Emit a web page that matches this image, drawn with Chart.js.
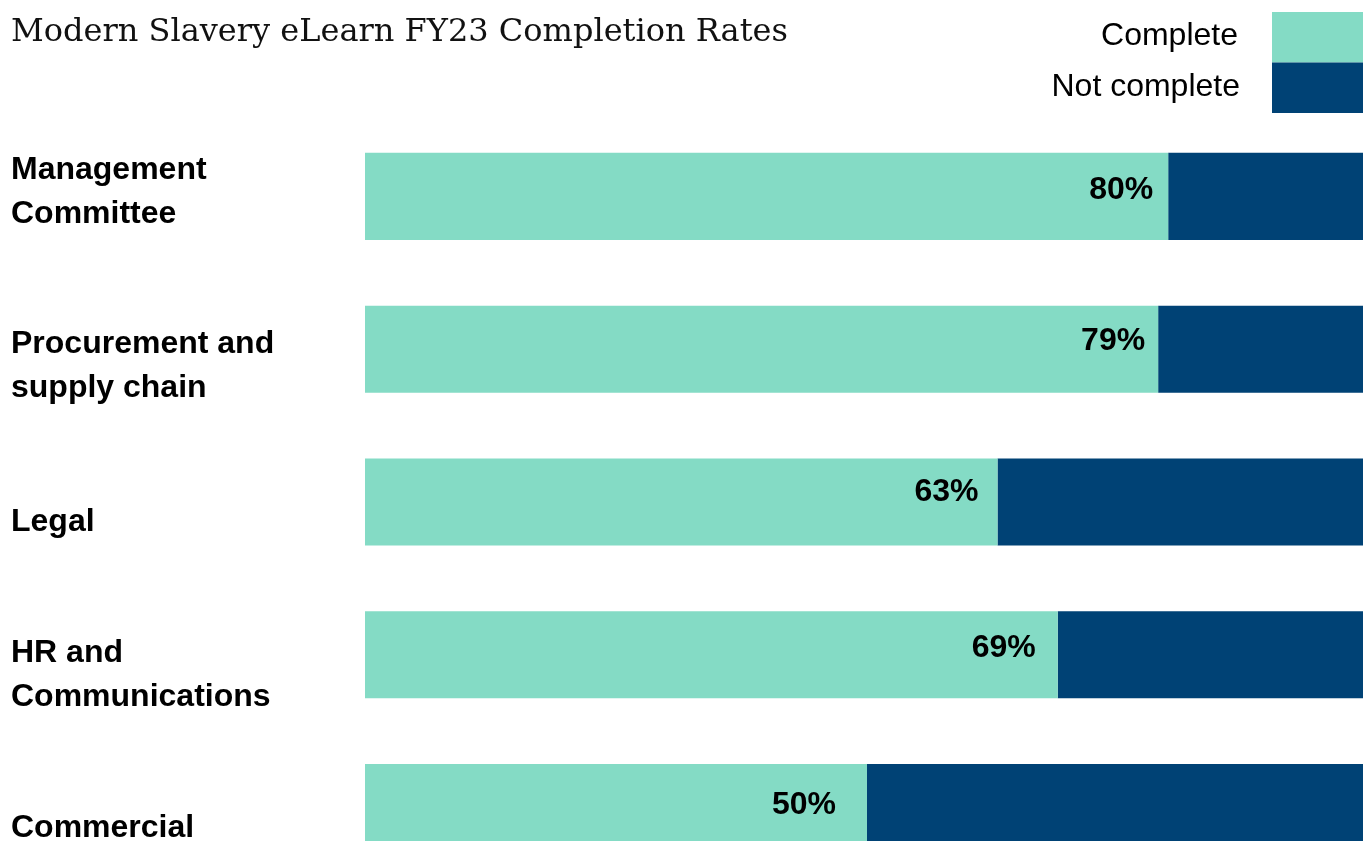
<!DOCTYPE html>
<html>
<head>
<meta charset="utf-8">
<title>Modern Slavery eLearn FY23 Completion Rates</title>
<script src="https://cdn.jsdelivr.net/npm/chart.js@4.4.1/dist/chart.umd.min.js"></script>
<style>
  html, body { margin: 0; padding: 0; background: #fff; overflow: hidden; }
  #wrap { width: 1363px; height: 841px; overflow: hidden; position: relative; }
  canvas { display: block; }
</style>
</head>
<body>
<div id="wrap">
  <canvas id="chart" width="1369" height="884"></canvas>
</div>
<script>
// data
const categories = [
  ['Management', 'Committee'],
  ['Procurement and', 'supply chain'],
  ['Legal'],
  ['HR and', 'Communications'],
  ['Commercial']
];
const complete    = [80, 79, 63, 69, 50];
const notComplete = [20, 21, 37, 31, 50];

const MINT = '#84dbc5';
const NAVY = '#004275';
const SANS = '"Liberation Sans", Arial, sans-serif';

// hand placement of the labels in the original (layout only)
const labelNudge = [-4, 17, 20, 20, 21];
const valueGapX  = [15, 13, 19, 22, 31];
const valueNudgeY = [-6, -8, -10, -7, -2];

const valueLabels = {
  id: 'valueLabels',
  afterDatasetsDraw(chart) {
    const ctx = chart.ctx;
    const meta = chart.getDatasetMeta(0);
    ctx.save();
    ctx.font = 'bold 32px ' + SANS;
    ctx.fillStyle = '#000';
    ctx.textAlign = 'right';
    ctx.textBaseline = 'middle';
    meta.data.forEach((bar, i) => {
      ctx.fillText(complete[i] + '%', bar.x - valueGapX[i], bar.y + valueNudgeY[i]);
    });
    ctx.restore();
  }
};

const categoryLabels = {
  id: 'categoryLabels',
  afterDraw(chart) {
    const ctx = chart.ctx;
    const y = chart.scales.y;
    const left = chart.chartArea.left - 354;
    ctx.save();
    ctx.font = 'bold 32px ' + SANS;
    ctx.fillStyle = '#000';
    ctx.textAlign = 'left';
    ctx.textBaseline = 'middle';
    categories.forEach((lines, i) => {
      const cy = y.getPixelForValue(i) + labelNudge[i];
      const lh = 44;
      const top = cy - (lines.length - 1) * lh / 2;
      lines.forEach((t, k) => ctx.fillText(t, left, top + k * lh));
    });
    ctx.restore();
  }
};

const boxLegend = {
  id: 'boxLegend',
  afterDraw(chart) {
    const ctx = chart.ctx;
    const boxW = 97, boxH = 50.5;
    const bx = chart.chartArea.right - boxW;
    ctx.save();
    ctx.font = '32px ' + SANS;
    ctx.textAlign = 'right';
    ctx.textBaseline = 'middle';
    chart.data.datasets.forEach((ds, i) => {
      const by = 12 + i * boxH;
      ctx.fillStyle = ds.backgroundColor;
      ctx.fillRect(bx, by, boxW, boxH);
      ctx.fillStyle = '#000';
      ctx.fillText(ds.label, bx - 34 + i * 2, by + boxH / 2 - 1);
    });
    ctx.restore();
  }
};

new Chart(document.getElementById('chart'), {
  type: 'bar',
  data: {
    labels: categories,
    datasets: [
      { label: 'Complete', data: complete, backgroundColor: MINT },
      { label: 'Not complete', data: notComplete, backgroundColor: NAVY }
    ]
  },
  options: {
    indexAxis: 'y',
    responsive: false,
    animation: false,
    categoryPercentage: 1,
    barPercentage: 0.57,
    layout: { padding: { left: 11, right: 0, top: 0, bottom: 0 } },
    plugins: {
      legend: { display: false },
      tooltip: { enabled: false },
      title: {
        display: true,
        align: 'start',
        text: 'Modern Slavery eLearn FY23 Completion Rates',
        color: '#111',
        font: { family: '"DejaVu Serif", serif', size: 32, weight: 'normal', lineHeight: 1.2 },
        padding: { top: 13, bottom: 68.6 }
      }
    },
    scales: {
      x: { stacked: true, min: 0, max: 100, display: false },
      y: {
        stacked: true,
        grid: { display: false },
        border: { display: false },
        ticks: { display: false },
        afterFit: s => { s.width = 354; }
      }
    }
  },
  plugins: [valueLabels, categoryLabels, boxLegend]
});
</script>
</body>
</html>
